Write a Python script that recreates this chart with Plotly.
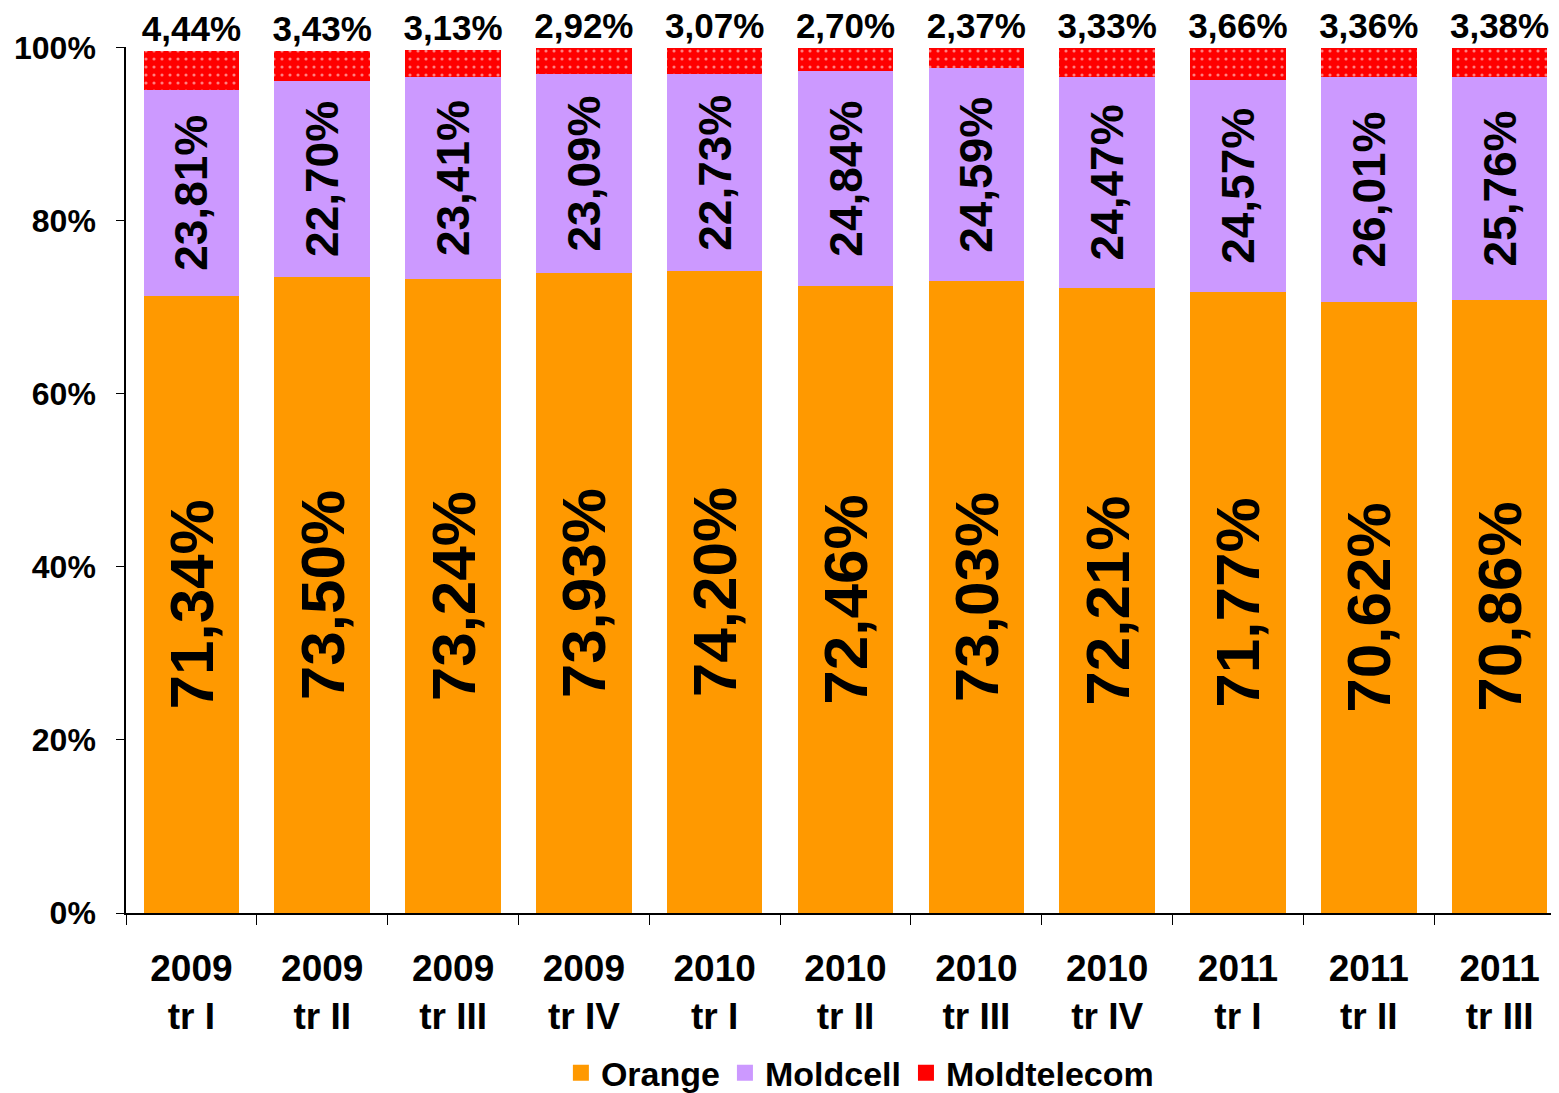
import plotly.graph_objects as go

categories = ["2009<br>tr I", "2009<br>tr II", "2009<br>tr III", "2009<br>tr IV",
              "2010<br>tr I", "2010<br>tr II", "2010<br>tr III", "2010<br>tr IV",
              "2011<br>tr I", "2011<br>tr II", "2011<br>tr III"]
orange = [71.34, 73.50, 73.24, 73.93, 74.20, 72.46, 73.03, 72.21, 71.77, 70.62, 70.86]
moldcell = [23.81, 22.70, 23.41, 23.09, 22.73, 24.84, 24.59, 24.47, 24.57, 26.01, 25.76]
moldtelecom = [4.44, 3.43, 3.13, 2.92, 3.07, 2.70, 2.37, 3.33, 3.66, 3.36, 3.38]
y_ticks = [0, 20, 40, 60, 80, 100]
y_ticktext = ["0%", "20%", "40%", "60%", "80%", "100%"]

FONT = "Liberation Sans, Arial, sans-serif"
C_OR, C_MC, C_MT = "#FF9900", "#CC99FF", "#FF0000"


def fmt(vals):
    return [f"{v:.2f}".replace(".", ",") + "%" for v in vals]


fig = go.Figure()
fig.add_trace(go.Bar(
    x=categories, y=orange, name="Orange", showlegend=False,
    marker=dict(color=C_OR, line=dict(width=0)),
    text=fmt(orange), textposition="inside", insidetextanchor="middle",
    textangle=-90, constraintext="none",
    textfont=dict(family=FONT, size=62, color="black", weight="bold"),
))
fig.add_trace(go.Bar(
    x=categories, y=moldcell, name="Moldcell", showlegend=False,
    marker=dict(color=C_MC, line=dict(width=0)),
    text=fmt(moldcell), textposition="inside", insidetextanchor="middle",
    textangle=-90, constraintext="none",
    textfont=dict(family=FONT, size=46, color="black", weight="bold"),
))
fig.add_trace(go.Bar(
    x=categories, y=moldtelecom, name="Moldtelecom", showlegend=False,
    marker=dict(color=C_MT, line=dict(width=0),
                pattern=dict(shape=".", fgcolor="white", bgcolor=C_MT,
                             size=8, solidity=0.12)),
    text=fmt(moldtelecom), textposition="outside", textangle=0,
    constraintext="none", cliponaxis=False,
    textfont=dict(family=FONT, size=35, color="black", weight="bold"),
))

# legend entries with larger square symbols
for name, col in [("Orange", C_OR), ("Moldcell", C_MC), ("Moldtelecom", C_MT)]:
    fig.add_trace(go.Scatter(
        x=[None], y=[None], mode="markers", name=name,
        marker=dict(symbol="square", size=20, color=col),
    ))

fig.update_layout(
    barmode="stack", bargap=0.27,
    width=1557, height=1085,
    margin=dict(l=118, r=0, t=39, b=180, autoexpand=False),
    paper_bgcolor="white", plot_bgcolor="white",
    font=dict(family=FONT, color="black", weight="bold"),
    legend=dict(orientation="h", x=0.51, xanchor="center", y=-0.185, yanchor="middle",
                font=dict(family=FONT, size=34, weight="bold"),
                traceorder="normal", itemwidth=30, tracegroupgap=0),
    xaxis=dict(showline=True, linecolor="black", linewidth=1.5,
               ticks="outside", tickson="boundaries", ticklen=10, tickcolor="black",
               tickfont=dict(family=FONT, size=37, weight="bold"),
               ticklabelstandoff=22, showgrid=False),
    yaxis=dict(range=[0, 100.1], tickmode="array", tickvals=y_ticks, ticktext=y_ticktext,
               showline=True, linecolor="black", linewidth=1.5,
               ticks="outside", ticklen=8, tickcolor="black",
               tickfont=dict(family=FONT, size=32, weight="bold"),
               ticklabelstandoff=14, showgrid=False, zeroline=False),
)

fig.write_html("out.html")
